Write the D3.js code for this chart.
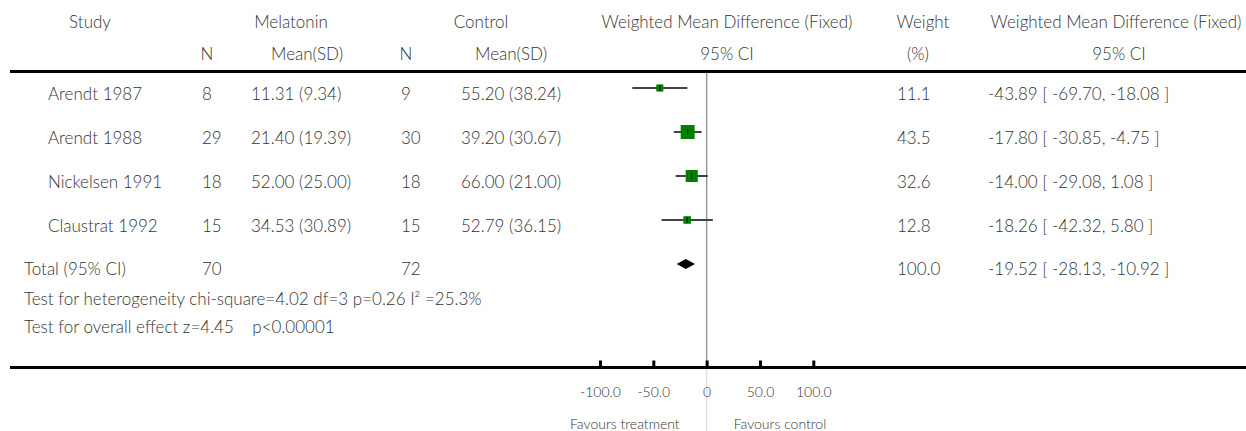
<!DOCTYPE html>
<html>
<head>
<meta charset="utf-8">
<script src="https://cdn.jsdelivr.net/npm/d3@7"></script>
<style>
  body { margin: 0; background: #fff; }
  svg text { font-family: Lato, "Open Sans", sans-serif; font-size: 17px; font-weight: 300; fill: #333; }
</style>
</head>
<body>
<div id="chart"></div>
<script>
// study data
let studies = ["Arendt 1987", "Arendt 1988", "Nickelsen 1991", "Claustrat 1992"];
let nTreat = [8, 29, 18, 15];
let meanTreat = ["11.31 (9.34)", "21.40 (19.39)", "52.00 (25.00)", "34.53 (30.89)"];
let nCtrl = [9, 30, 18, 15];
let meanCtrl = ["55.20 (38.24)", "39.20 (30.67)", "66.00 (21.00)", "52.79 (36.15)"];
let weights = [11.1, 43.5, 32.6, 12.8];
let wmd = [-43.89, -17.80, -14.00, -18.26];
let ciLow = [-69.70, -30.85, -29.08, -42.32];
let ciHigh = [-18.08, -4.75, 1.08, 5.80];

// pooled result
let totalLabel = "Total (95% CI)";
let totalN = [70, 72];
let totalWeight = 100.0;
let totalWmd = -19.52, totalLow = -28.13, totalHigh = -10.92;
let hetText = "Test for heterogeneity chi-square=4.02 df=3 p=0.26 I\u00B2 =25.3%";
let effectText = "Test for overall effect z=4.45\u00A0\u00A0\u00A0 p<0.00001";

let tickValues = [-100, -50, 0, 50, 100];

let width = 1246, height = 431;

let svg = d3.select("#chart")
  .append("svg")
    .attr("width", width)
    .attr("height", height);

let x = d3.scaleLinear()
  .domain([-100, 100])
  .range([600, 813.3]);

let rowY = d3.scalePoint()
  .domain(d3.range(studies.length + 1))
  .range([88, 264]);

// hyphen instead of unicode minus, like the original
let fmt = v => d3.format(".2f")(v).replace("\u2212", "-");
let fmt1 = v => d3.format(".1f")(v).replace("\u2212", "-");
let ciText = (m, l, h) => fmt(m) + " [ " + fmt(l) + ", " + fmt(h) + " ]";

// header
let head1 = [["Study", 90], ["Melatonin", 291], ["Control", 481],
             ["Weighted Mean Difference (Fixed)", 727], ["Weight", 923],
             ["Weighted Mean Difference (Fixed)", 1116]];
let head2 = [["N", 207], ["Mean(SD)", 307], ["N", 406], ["Mean(SD)", 511],
             ["95% CI", 727], ["(%)", 918], ["95% CI", 1119]];

svg.selectAll(".h1").data(head1).enter().append("text")
  .attr("x", d => d[1])
  .attr("y", 28)
  .attr("text-anchor", "middle")
  .text(d => d[0]);
svg.selectAll(".h2").data(head2).enter().append("text")
  .attr("x", d => d[1])
  .attr("y", 60)
  .attr("text-anchor", "middle")
  .text(d => d[0]);

// horizontal rule under header
svg.append("line")
  .attr("x1", 10).attr("x2", width)
  .attr("y1", 71.5).attr("y2", 71.5)
  .attr("stroke", "#000").attr("stroke-width", 3);

// zero line
svg.append("line")
  .attr("x1", x(0)).attr("x2", x(0))
  .attr("y1", 73).attr("y2", 368)
  .attr("stroke", "#999").attr("stroke-width", 1.5);
svg.append("line")
  .attr("x1", x(0)).attr("x2", x(0))
  .attr("y1", 368).attr("y2", height)
  .attr("stroke", "#e2e2e2").attr("stroke-width", 1.5);

// study rows
let rows = svg.selectAll(".row")
  .data(studies)
  .enter().append("g")
  .attr("transform", (d, i) => "translate(0," + rowY(i) + ")");

rows.append("text").attr("x", 48).attr("y", 12).text(d => d);
rows.append("text").attr("x", 202).attr("y", 12).text((d, i) => nTreat[i]);
rows.append("text").attr("x", 251).attr("y", 12).text((d, i) => meanTreat[i]);
rows.append("text").attr("x", 401).attr("y", 12).text((d, i) => nCtrl[i]);
rows.append("text").attr("x", 461).attr("y", 12).text((d, i) => meanCtrl[i]);
rows.append("text").attr("x", 897).attr("y", 12).text((d, i) => fmt1(weights[i]));
rows.append("text").attr("x", 988).attr("y", 12).text((d, i) => ciText(wmd[i], ciLow[i], ciHigh[i]));

rows.append("line")
  .attr("x1", (d, i) => x(ciLow[i]))
  .attr("x2", (d, i) => x(ciHigh[i]))
  .attr("y1", 0).attr("y2", 0)
  .attr("stroke", "#444").attr("stroke-width", 2);

let boxSize = d3.scaleSqrt().domain([0, 100]).range([0, 21.2]);
rows.append("rect")
  .attr("x", (d, i) => x(wmd[i]) - boxSize(weights[i]) / 2)
  .attr("y", (d, i) => -boxSize(weights[i]) / 2)
  .attr("width", (d, i) => boxSize(weights[i]))
  .attr("height", (d, i) => boxSize(weights[i]))
  .attr("fill", "#008000");
rows.append("line")
  .attr("x1", (d, i) => x(wmd[i])).attr("x2", (d, i) => x(wmd[i]))
  .attr("y1", -3).attr("y2", 3)
  .attr("stroke", "#000").attr("stroke-width", 1);

// total row
let ty = rowY(studies.length);
svg.append("text").attr("x", 24).attr("y", ty + 11).text(totalLabel);
svg.append("text").attr("x", 202).attr("y", ty + 11).text(totalN[0]);
svg.append("text").attr("x", 401).attr("y", ty + 11).text(totalN[1]);
svg.append("text").attr("x", 897).attr("y", ty + 11).text(fmt1(totalWeight));
svg.append("text").attr("x", 988).attr("y", ty + 11).text(ciText(totalWmd, totalLow, totalHigh));
svg.append("path")
  .attr("d", "M" + x(totalLow) + "," + ty +
             "L" + x(totalWmd) + "," + (ty - 5) +
             "L" + x(totalHigh) + "," + ty +
             "L" + x(totalWmd) + "," + (ty + 5) + "Z")
  .attr("fill", "#000");

svg.append("text").attr("x", 24).attr("y", 305).text(hetText);
svg.append("text").attr("x", 24).attr("y", 333).text(effectText);

// bottom axis
svg.append("line")
  .attr("x1", 10).attr("x2", width)
  .attr("y1", 367.5).attr("y2", 367.5)
  .attr("stroke", "#000").attr("stroke-width", 3);

let axis = svg.append("g")
  .attr("transform", "translate(0,367.5)")
  .call(d3.axisBottom(x)
    .tickValues(tickValues)
    .tickSize(-7)
    .tickPadding(20)
    .tickFormat(d => d === 0 ? "0" : fmt1(d)));
axis.select(".domain").remove();
axis.selectAll(".tick line").attr("stroke", "#000").attr("stroke-width", 3);
axis.selectAll(".tick text")
  .attr("font-family", null).attr("font-size", null)
  .style("font-size", "14px").attr("fill", "#333");

svg.append("text").attr("x", x(0) - 27).attr("y", 429)
  .attr("text-anchor", "end").style("font-size", "14px").text("Favours treatment");
svg.append("text").attr("x", x(0) + 27).attr("y", 429)
  .style("font-size", "14px").text("Favours control");
</script>
</body>
</html>
